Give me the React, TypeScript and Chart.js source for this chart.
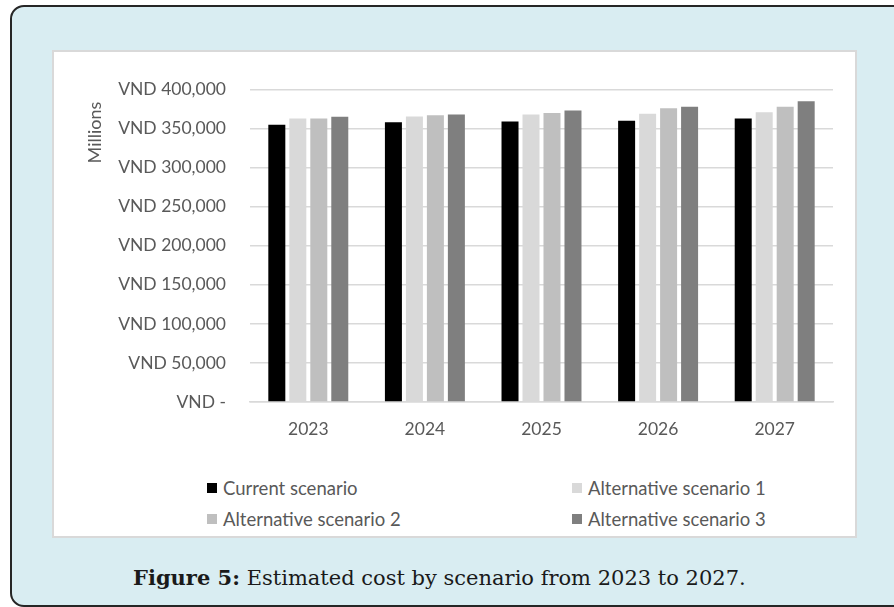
import React, { useEffect, useRef } from "react";
import { Chart, registerables } from "chart.js";

Chart.register(...registerables);

// Estimated cost (VND, millions) per scenario
const years = ["2023", "2024", "2025", "2026", "2027"];
const seriesNames = [
  "Current scenario",
  "Alternative scenario 1",
  "Alternative scenario 2",
  "Alternative scenario 3",
];
const currentScenario = [355000, 358000, 359000, 360000, 363000];
const alternativeScenario1 = [363000, 365500, 368000, 369000, 371000];
const alternativeScenario2 = [363000, 367000, 370000, 376000, 378000];
const alternativeScenario3 = [365000, 368000, 373000, 378000, 385000];
const seriesColors = ["#000000", "#d9d9d9", "#bfbfbf", "#7f7f7f"];
const yMin = 0;
const yMax = 400000;
const yStep = 50000;
const unitLabel = "Millions";

const TEXT = "#595959";
const FONT = "Lato, 'Open Sans', sans-serif";

const unitLabelPlugin = {
  id: "unitLabel",
  afterDraw(chart: any) {
    const { ctx, chartArea } = chart;
    ctx.save();
    ctx.translate(35, chartArea.top + 43);
    ctx.rotate(-Math.PI / 2);
    ctx.fillStyle = TEXT;
    ctx.font = `18px ${FONT}`;
    ctx.textAlign = "center";
    ctx.textBaseline = "middle";
    ctx.fillText(unitLabel, 0, 0);
    ctx.restore();
  },
};

function formatTick(v: number) {
  if (v === 0) return "VND -";
  return "VND " + v.toLocaleString("en-US");
}

export default function App() {
  const canvasRef = useRef<HTMLCanvasElement>(null);

  useEffect(() => {
    if (!canvasRef.current) return;
    const allSeries = [
      currentScenario,
      alternativeScenario1,
      alternativeScenario2,
      alternativeScenario3,
    ];
    const chart = new Chart(canvasRef.current, {
      type: "bar",
      data: {
        labels: years,
        datasets: allSeries.map((data, i) => ({
          label: seriesNames[i],
          data,
          backgroundColor: seriesColors[i],
          borderWidth: 0,
          categoryPercentage: 0.72,
          barPercentage: 0.81,
        })),
      },
      options: {
        animation: false,
        responsive: false,
        maintainAspectRatio: false,
        layout: { padding: { top: 20, right: 17, left: 0, bottom: 0 } },
        plugins: {
          legend: { display: false },
          tooltip: { enabled: false },
        },
        scales: {
          x: {
            grid: { display: false, drawTicks: false },
            border: { display: true, color: "#d9d9d9", width: 1.5 },
            ticks: {
              color: TEXT,
              font: { family: FONT, size: 17.5 },
              padding: 17,
            },
            afterFit(scale: any) {
              scale.height = 53;
            },
          },
          y: {
            min: yMin,
            max: yMax,
            grid: { color: "#d9d9d9", lineWidth: 1.5, drawTicks: false },
            border: { display: false },
            ticks: {
              stepSize: yStep,
              color: TEXT,
              font: { family: FONT, size: 17.5 },
              padding: 24,
              callback: (v: any) => formatTick(Number(v)),
            },
            afterFit(scale: any) {
              scale.width = 190;
            },
          },
        },
      },
      plugins: [unitLabelPlugin],
    });
    return () => chart.destroy();
  }, []);

  const legendCols = [207, 572];
  const legendRows = [488, 519];

  return (
    <div
      style={{
        position: "fixed",
        left: 0,
        top: 0,
        width: 894,
        height: 607,
        overflow: "hidden",
        background: "#ffffff",
      }}
    >
      <div
        style={{
          position: "absolute",
          left: 10,
          top: 5,
          width: 920,
          height: 602,
          boxSizing: "border-box",
          border: "2px solid #262626",
          borderRadius: 14,
          background: "#d9edf2",
        }}
      />
      <div
        style={{
          position: "absolute",
          left: 52,
          top: 50,
          width: 805,
          height: 488,
          boxSizing: "border-box",
          border: "2px solid #d9d9d9",
          background: "#ffffff",
        }}
      />
      <canvas
        ref={canvasRef}
        width={790}
        height={400}
        style={{ position: "absolute", left: 60, top: 55, width: 790, height: 400 }}
      />
      {seriesNames.map((name, i) => {
        const col = i % 2;
        const row = i < 2 ? 0 : 1;
        return (
          <div
            key={name}
            style={{
              position: "absolute",
              left: legendCols[col],
              top: legendRows[row] - 11,
              height: 22,
              display: "flex",
              alignItems: "center",
              whiteSpace: "nowrap",
              fontFamily: FONT,
              fontSize: 18.5,
              color: TEXT,
            }}
          >
            <span
              style={{
                display: "inline-block",
                width: 10,
                height: 10,
                background: seriesColors[i],
                marginRight: 6,
              }}
            />
            <span>{name}</span>
          </div>
        );
      })}
      <div
        style={{
          position: "absolute",
          left: 133,
          top: 564,
          whiteSpace: "nowrap",
          fontFamily: "'DejaVu Serif', serif",
          fontSize: 21,
          color: "#1a1a1a",
          lineHeight: "28px",
        }}
      >
        <b>Figure 5:</b> Estimated cost by scenario from 2023 to 2027.
      </div>
    </div>
  );
}
